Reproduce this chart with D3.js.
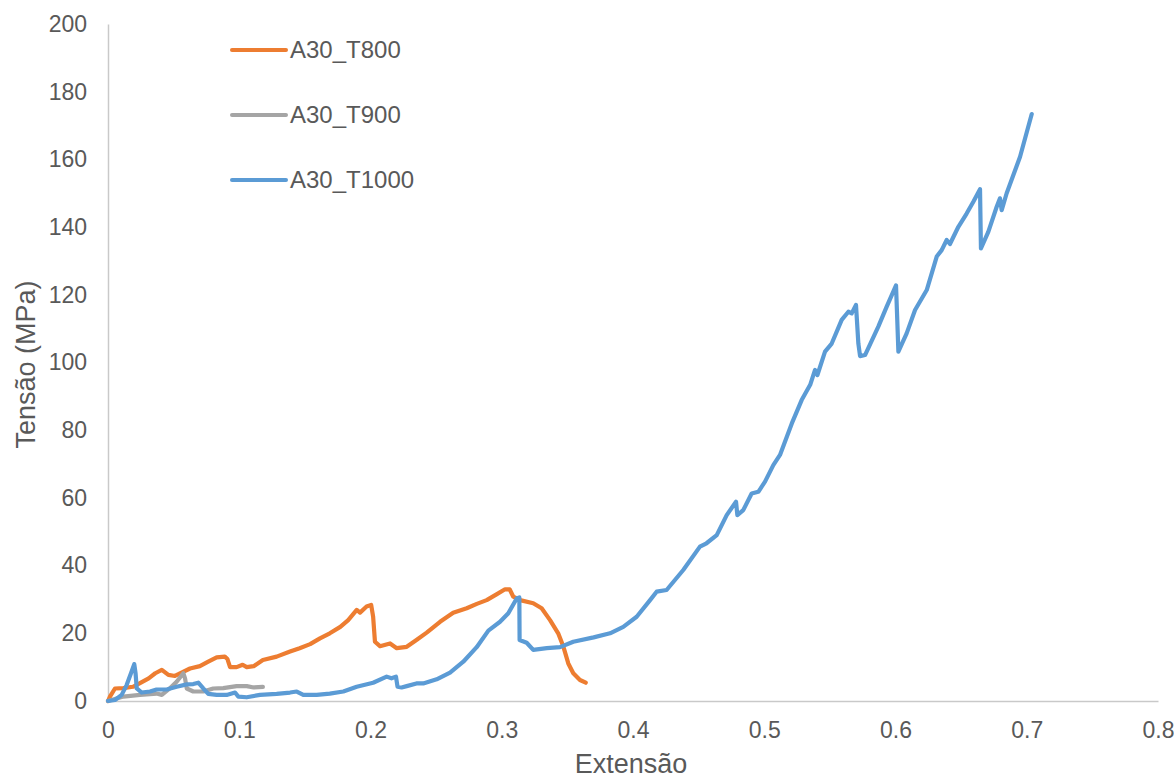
<!DOCTYPE html>
<html>
<head>
<meta charset="utf-8">
<script src="https://cdn.jsdelivr.net/npm/d3@7"></script>
<style>
  html, body { margin: 0; padding: 0; background: #fff; }
  svg { display: block; font-family: "Liberation Sans", Arial, sans-serif; }
</style>
</head>
<body>
<svg id="chart" width="1174" height="778"></svg>
<script>
// Tensile curves: strain (Extensão) vs stress (Tensão, MPa)
const seriesNames = ["A30_T800", "A30_T900", "A30_T1000"];
const seriesColors = ["#ED7D31", "#A5A5A5", "#5B9BD5"];

const t800Strain = [0, 0.0015, 0.0053, 0.0117, 0.019, 0.024, 0.031, 0.036, 0.041, 0.046, 0.051, 0.056, 0.0625, 0.070, 0.0764, 0.0828, 0.089, 0.091, 0.093, 0.098, 0.1026, 0.1057, 0.111, 0.118, 0.1285, 0.1387, 0.146, 0.154, 0.1615, 0.169, 0.177, 0.183, 0.1895, 0.192, 0.197, 0.2005, 0.202, 0.2034, 0.2072, 0.2149, 0.220, 0.2276, 0.235, 0.2428, 0.253, 0.263, 0.2733, 0.281, 0.2885, 0.296, 0.3025, 0.306, 0.3088, 0.314, 0.324, 0.3304, 0.3368, 0.343, 0.347, 0.3507, 0.3545, 0.3596, 0.364];
const t800Stress = [0, 1.3, 3.7, 3.8, 4.2, 5.2, 6.7, 8.2, 9.2, 7.7, 7.4, 8.4, 9.6, 10.3, 11.6, 12.9, 13.1, 12.4, 10.0, 10.0, 10.7, 10.0, 10.3, 12.1, 13.1, 14.6, 15.6, 16.8, 18.5, 20.0, 21.9, 23.9, 26.9, 26.1, 27.9, 28.4, 24.9, 17.5, 16.2, 17.0, 15.6, 16.0, 18.0, 20.2, 23.4, 26.1, 27.4, 28.7, 29.8, 31.5, 33.0, 33.0, 30.8, 29.8, 28.9, 27.4, 23.9, 20.0, 16.0, 11.1, 8.2, 6.2, 5.4];

const t900Strain = [0, 0.0117, 0.0244, 0.037, 0.041, 0.047, 0.0523, 0.0574, 0.0587, 0.060, 0.065, 0.0726, 0.0802, 0.0878, 0.098, 0.1057, 0.111, 0.118];
const t900Stress = [0, 1.3, 1.8, 2.2, 1.8, 3.7, 5.7, 8.2, 6.7, 3.7, 2.8, 2.8, 3.7, 3.8, 4.4, 4.4, 4.0, 4.2];

const t1000Strain = [0, 0.0053, 0.0104, 0.0142, 0.018, 0.020, 0.021, 0.0219, 0.0257, 0.032, 0.037, 0.0447, 0.0523, 0.060, 0.065, 0.0688, 0.0726, 0.0764, 0.0828, 0.0904, 0.0968, 0.0993, 0.1057, 0.1158, 0.1285, 0.1387, 0.1438, 0.1488, 0.159, 0.169, 0.1793, 0.1895, 0.202, 0.2123, 0.216, 0.2194, 0.2206, 0.2237, 0.2276, 0.235, 0.2402, 0.2504, 0.2606, 0.2707, 0.2809, 0.2898, 0.2987, 0.305, 0.3114, 0.3134, 0.3136, 0.319, 0.324, 0.3343, 0.3444, 0.3545, 0.370, 0.3825, 0.3926, 0.4028, 0.413, 0.418, 0.4256, 0.4383, 0.451, 0.456, 0.4638, 0.4714, 0.4785, 0.4795, 0.484, 0.4904, 0.4955, 0.5006, 0.5069, 0.512, 0.521, 0.5285, 0.535, 0.5387, 0.5405, 0.5463, 0.5514, 0.559, 0.5641, 0.5666, 0.5699, 0.5717, 0.573, 0.5768, 0.5869, 0.5933, 0.6004, 0.6022, 0.6085, 0.6149, 0.6238, 0.6314, 0.6352, 0.639, 0.6415, 0.6479, 0.6542, 0.6593, 0.6644, 0.6651, 0.6707, 0.6771, 0.6796, 0.6809, 0.6847, 0.6949, 0.7038];
const t1000Stress = [0, 0.3, 1.8, 4.7, 8.7, 10.9, 8.2, 3.7, 2.5, 2.8, 3.4, 3.4, 4.2, 4.9, 5.0, 5.4, 3.7, 2.1, 1.8, 1.8, 2.5, 1.3, 1.1, 1.8, 2.1, 2.5, 2.8, 1.8, 1.8, 2.2, 2.8, 4.2, 5.4, 7.2, 6.7, 7.2, 4.2, 4.0, 4.4, 5.2, 5.2, 6.4, 8.4, 11.6, 15.9, 20.8, 23.4, 25.9, 30.3, 30.6, 18.0, 17.2, 15.1, 15.6, 15.9, 17.5, 18.8, 20.0, 21.9, 24.9, 29.8, 32.3, 32.8, 38.7, 45.6, 46.6, 49.0, 54.9, 58.9, 54.9, 56.4, 61.3, 61.8, 64.8, 69.7, 72.7, 82.0, 88.9, 93.4, 97.8, 96.3, 103.2, 105.6, 112.6, 115.0, 114.5, 117.0, 105.6, 101.9, 102.2, 110.6, 116.5, 122.8, 103.2, 108.6, 115.5, 121.4, 131.3, 133.2, 136.2, 135.0, 140.1, 144.0, 147.5, 151.2, 133.7, 138.6, 146.0, 148.5, 145.0, 150.0, 160.8, 173.4];

const xTicks = [0, 0.1, 0.2, 0.3, 0.4, 0.5, 0.6, 0.7, 0.8];
const yTicks = [0, 20, 40, 60, 80, 100, 120, 140, 160, 180, 200];

const svg = d3.select("#chart");
const margin = { left: 108, right: 16, top: 24, bottom: 77 };
const width = 1174, height = 778;

const x = d3.scaleLinear().domain([0, 0.8]).range([margin.left, width - margin.right]);
const y = d3.scaleLinear().domain([0, 200]).range([height - margin.bottom, margin.top]);

const textColor = "#595959";
const axisColor = "#C9C9C9";

// x axis
const xAxis = svg.append("g")
  .attr("transform", `translate(0,${y(0)})`)
  .call(d3.axisBottom(x).tickValues(xTicks).tickSize(0).tickPadding(21)
    .tickFormat(d => d3.format("~g")(d)));
xAxis.select(".domain").attr("stroke", axisColor).attr("stroke-width", 1.5);
xAxis.selectAll("text").attr("fill", textColor).style("font-size", "23px");

// y axis
const yAxis = svg.append("g")
  .attr("transform", `translate(${x(0)},0)`)
  .call(d3.axisLeft(y).tickValues(yTicks).tickSize(0).tickPadding(21));
yAxis.select(".domain").attr("stroke", axisColor).attr("stroke-width", 1.5);
yAxis.selectAll("text").attr("fill", textColor).style("font-size", "23px");

// axis titles
svg.append("text")
  .attr("x", (x(0) + x(0.8)) / 2 - 2)
  .attr("y", 773)
  .attr("text-anchor", "middle")
  .attr("fill", textColor)
  .style("font-size", "27px")
  .text("Extensão");

svg.append("text")
  .attr("transform", `translate(35,${(y(0) + y(200)) / 2 + 2}) rotate(-90)`)
  .attr("text-anchor", "middle")
  .attr("fill", textColor)
  .style("font-size", "27px")
  .text("Tensão (MPa)");

// curves
const series = [
  { name: seriesNames[0], color: seriesColors[0], xs: t800Strain, ys: t800Stress },
  { name: seriesNames[1], color: seriesColors[1], xs: t900Strain, ys: t900Stress },
  { name: seriesNames[2], color: seriesColors[2], xs: t1000Strain, ys: t1000Stress }
];

const line = d3.line().x(d => x(d[0])).y(d => y(d[1]));

svg.append("g").selectAll("path")
  .data(series)
  .join("path")
  .attr("d", s => line(s.xs.map((v, i) => [v, s.ys[i]])))
  .attr("fill", "none")
  .attr("stroke", s => s.color)
  .attr("stroke-width", 4.2)
  .attr("stroke-linejoin", "round")
  .attr("stroke-linecap", "round");

// legend
const legend = svg.append("g").attr("transform", "translate(232,50)");
const item = legend.selectAll("g")
  .data(series)
  .join("g")
  .attr("transform", (d, i) => `translate(0,${i * 65})`);
item.append("line")
  .attr("x1", 0).attr("x2", 54)
  .attr("stroke", d => d.color)
  .attr("stroke-width", 4)
  .attr("stroke-linecap", "round");
item.append("text")
  .attr("x", 58)
  .attr("dy", "0.35em")
  .attr("fill", textColor)
  .style("font-size", "24px")
  .text(d => d.name);
</script>
</body>
</html>
